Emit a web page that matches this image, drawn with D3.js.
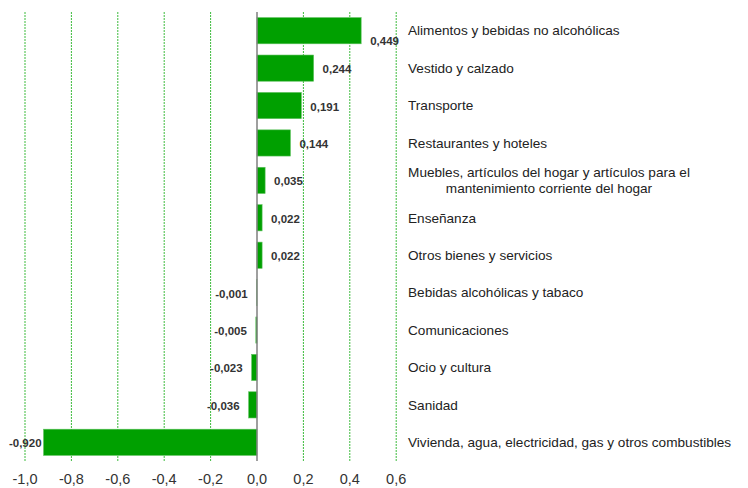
<!DOCTYPE html>
<html>
<head>
<meta charset="utf-8">
<script src="https://cdn.jsdelivr.net/npm/d3@7.9.0/dist/d3.min.js"></script>
<style>
  body { margin: 0; background: #fff; }
  svg { font-family: "Liberation Sans", Arial, sans-serif; }
</style>
</head>
<body>
<svg id="chart" width="748" height="488"></svg>
<script>
const categories = [
  "Alimentos y bebidas no alcohólicas",
  "Vestido y calzado",
  "Transporte",
  "Restaurantes y hoteles",
  "Muebles, artículos del hogar y artículos para el|mantenimiento corriente del hogar",
  "Enseñanza",
  "Otros bienes y servicios",
  "Bebidas alcohólicas y tabaco",
  "Comunicaciones",
  "Ocio y cultura",
  "Sanidad",
  "Vivienda, agua, electricidad, gas y otros combustibles"
];
const values = [0.449, 0.244, 0.191, 0.144, 0.035, 0.022, 0.022, -0.001, -0.005, -0.023, -0.036, -0.920];
const ticks = [-1.0, -0.8, -0.6, -0.4, -0.2, 0.0, 0.2, 0.4, 0.6];

const svg = d3.select("#chart");
const plotTop = 12, plotBottom = 461;

const x = d3.scaleLinear().domain([-1.0, 0.6]).range([25, 396.2]);
const y = d3.scaleBand().domain(d3.range(categories.length)).range([plotTop, plotBottom]).paddingInner(0.3).paddingOuter(0.15);

const fmt = (v, d) => d3.format(`.${d}f`)(v).replace(".", ",").replace("−", "-");

// gridlines
svg.append("g")
  .selectAll("line")
  .data(ticks.filter((t) => t !== 0))
  .join("line")
  .attr("x1", (d) => x(d)).attr("x2", (d) => x(d))
  .attr("y1", plotTop).attr("y2", plotBottom)
  .attr("stroke", "#3dbb3d")
  .attr("stroke-width", 1)
  .attr("stroke-dasharray", "2,1");

// bars
svg.append("g")
  .selectAll("rect")
  .data(values)
  .join("rect")
  .attr("x", (d) => x(Math.min(0, d)))
  .attr("y", (_, i) => y(i))
  .attr("width", (d) => Math.abs(x(d) - x(0)))
  .attr("height", y.bandwidth())
  .attr("fill", "#00a000")
  .attr("stroke", "#5cc05c")
  .attr("stroke-width", 0.6);

// zero line
svg.append("line")
  .attr("x1", x(0)).attr("x2", x(0))
  .attr("y1", plotTop).attr("y2", plotBottom)
  .attr("stroke", "#7f7f7f")
  .attr("stroke-width", 1.5);

// value labels
svg.append("g")
  .selectAll("text")
  .data(values)
  .join("text")
  .attr("x", (d) => {
    if (d >= 0) return x(d) + 9;
    return x(d) - 9 < 45 ? x(d) - 2 : x(d) - 9;
  })
  .attr("y", (_, i) => y(i) + y.bandwidth() / 2 + (i === 0 ? 10 : 1))
  .attr("dy", "0.35em")
  .attr("text-anchor", (d) => (d >= 0 ? "start" : "end"))
  .attr("font-size", 11.5)
  .attr("font-weight", "bold")
  .attr("fill", "#333")
  .text((d) => fmt(d, 3));

// category labels
const cat = svg.append("g")
  .selectAll("text")
  .data(categories)
  .join("text")
  .attr("font-size", 13.6)
  .attr("fill", "#222")
  .attr("y", (_, i) => y(i) + y.bandwidth() / 2);

cat.each(function (d) {
  const lines = d.split("|");
  const t = d3.select(this);
  if (lines.length === 1) {
    t.attr("x", 408).attr("dy", "0.35em").text(d);
  } else {
    t.attr("text-anchor", "middle");
    lines.forEach((line, k) => {
      t.append("tspan")
        .attr("x", 549)
        .attr("dy", k === 0 ? "-0.25em" : "1.2em")
        .text(line);
    });
  }
});

// x axis labels
svg.append("g")
  .selectAll("text")
  .data(ticks)
  .join("text")
  .attr("x", (d) => x(d))
  .attr("y", 484)
  .attr("text-anchor", "middle")
  .attr("font-size", 14.5)
  .attr("fill", "#333")
  .text((d) => fmt(d, 1));
</script>
</body>
</html>
